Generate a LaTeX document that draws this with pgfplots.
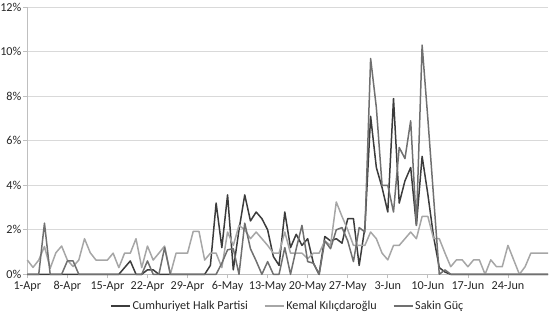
\documentclass[border=0pt]{standalone}
\usepackage{fontspec}
\setmainfont{Carlito}
\usepackage{pgfplots}
\pgfplotsset{compat=1.18}
\definecolor{chp}{RGB}{60,60,60}
\definecolor{kk}{RGB}{166,166,166}
\definecolor{sg}{RGB}{112,112,112}
\definecolor{gridc}{RGB}{217,217,217}
\definecolor{axc}{RGB}{191,191,191}
\pgfplotstableread{
x y
0 0
1 0
2 0
3 0
4 0
5 0
6 0
7 0
8 0
9 0
10 0
11 0
12 0
13 0
14 0
15 0
16 0
17 0.3
18 0.6
19 0
20 0
21 0.2
22 0.2
23 0
24 0
25 0
26 0
27 0
28 0
29 0
30 0
31 0
32 0.4
33 3.2
34 1.2
35 3.57
36 0.2
37 2.0
38 3.57
39 2.4
40 2.8
41 2.5
42 2.0
43 0.8
44 0.4
45 2.8
46 1.2
47 1.8
48 1.3
49 1.6
50 0.5
51 0
52 1.7
53 1.5
54 1.6
55 1.4
56 2.5
57 2.5
58 0.4
59 2.1
60 7.1
61 4.8
62 3.9
63 2.8
64 7.9
65 3.2
66 4.2
67 4.8
68 2.2
69 5.3
70 3.6
71 1.7
72 0.3
73 0.1
74 0
75 0
76 0
77 0
78 0
79 0
80 0
81 0
82 0
83 0
84 0
85 0
86 0
87 0
88 0
89 0
90 0
91 0
}\chpdata
\pgfplotstableread{
x y
0 0.64
1 0.31
2 0.64
3 1.25
4 0.27
5 0.97
6 1.27
7 0.64
8 0.35
9 0.64
10 1.60
11 0.97
12 0.64
13 0.64
14 0.64
15 0.95
16 0.30
17 0.95
18 0.95
19 1.60
20 0.30
21 1.27
22 0.64
23 0.95
24 1.27
25 0
26 0.95
27 0.95
28 0.95
29 1.93
30 1.93
31 0.64
32 0.95
33 0.95
34 0.30
35 1.90
36 1.30
37 2.20
38 2.00
39 1.60
40 1.90
41 1.60
42 1.30
43 0.95
44 0.95
45 1.90
46 0.95
47 0.95
48 0.95
49 0.70
50 0.95
51 0.95
52 1.50
53 1.30
54 3.25
55 2.60
56 2.00
57 1.30
58 1.30
59 1.30
60 1.90
61 1.60
62 0.95
63 0.65
64 1.30
65 1.30
66 1.60
67 1.90
68 1.60
69 2.60
70 2.60
71 1.60
72 1.60
73 0.95
74 0.34
75 0.65
76 0.65
77 0.34
78 0.65
79 0.65
80 0
81 0.65
82 0.34
83 0.34
84 1.30
85 0.65
86 0
87 0.34
88 0.95
89 0.95
90 0.95
91 0.95
}\kkdata
\pgfplotstableread{
x y
0 0
1 0
2 0
3 2.3
4 0
5 0
6 0
7 0.6
8 0.6
9 0
10 0
11 0
12 0
13 0
14 0
15 0
16 0
17 0
18 0
19 0
20 0
21 0.6
22 0
23 0
24 1.2
25 0
26 0
27 0
28 0
29 0
30 0
31 0
32 0
33 0
34 0.5
35 1.1
36 1.15
37 0
38 2.3
39 1.15
40 0.6
41 0
42 0.57
43 0
44 0
45 1.2
46 0
47 1.15
48 2.2
49 0.57
50 0.5
51 0
52 1.5
53 1.15
54 2.0
55 2.1
56 1.5
57 0.57
58 2.1
59 1.9
60 9.7
61 7.5
62 4.0
63 4.0
64 2.8
65 5.7
66 5.2
67 6.9
68 2.2
69 10.3
70 7.0
71 3.5
72 0
73 0.2
74 0
75 0
76 0
77 0
78 0
79 0
80 0
81 0
82 0
83 0
84 0
85 0
86 0
87 0
88 0
89 0
90 0
91 0
}\sgdata
\begin{document}
\begin{tikzpicture}
\begin{axis}[name=ax, scale only axis, width=520.7bp, height=267bp,
  xmin=0, xmax=91, ymin=0, ymax=12, clip=false,
  axis x line*=bottom, axis y line*=left,
  axis line style={axc, line width=0.75bp},
  ytick={0,2,...,12}, yticklabels={0\%,2\%,4\%,6\%,8\%,10\%,12\%},
  xtick={0,7,...,84},
  xticklabels={1-Apr,8-Apr,15-Apr,22-Apr,29-Apr,6-May,13-May,20-May,27-May,3-Jun,10-Jun,17-Jun,24-Jun},
  ymajorgrids, grid style={gridc, line width=0.75bp},
  tick align=outside, major tick length=4bp,
  tick style={axc, line width=0.75bp},
  ticklabel style={font=\fontsize{12.2}{14}\selectfont, text=black!85},
  xticklabel style={yshift=0.5bp},
  yticklabel style={xshift=1.5bp},
  legend columns=3,
  legend style={at={(axis description cs:0.5,0)}, anchor=north, yshift=-22.5bp,
    draw=none, fill=none, font=\fontsize{12.2}{14}\selectfont, text=black!85,
    /tikz/every even column/.append style={column sep=14bp}},
  legend image code/.code={\draw[#1] (0bp,0bp) -- (19bp,0bp);},
  every axis plot/.append style={line width=1.5bp, line join=round},
]
\addplot[chp] table {\chpdata};
\addlegendentry{Cumhuriyet Halk Partisi}
\addplot[kk] table {\kkdata};
\addlegendentry{Kemal Kılıçdaroğlu}
\addplot[sg] table {\sgdata};
\addlegendentry{Sakin Güç}
\end{axis}
\pgfresetboundingbox
\path ([xshift=-27.3bp, yshift=-39bp]ax.south west) rectangle ([xshift=2bp, yshift=7.3bp]ax.north east);
\end{tikzpicture}
\end{document}
